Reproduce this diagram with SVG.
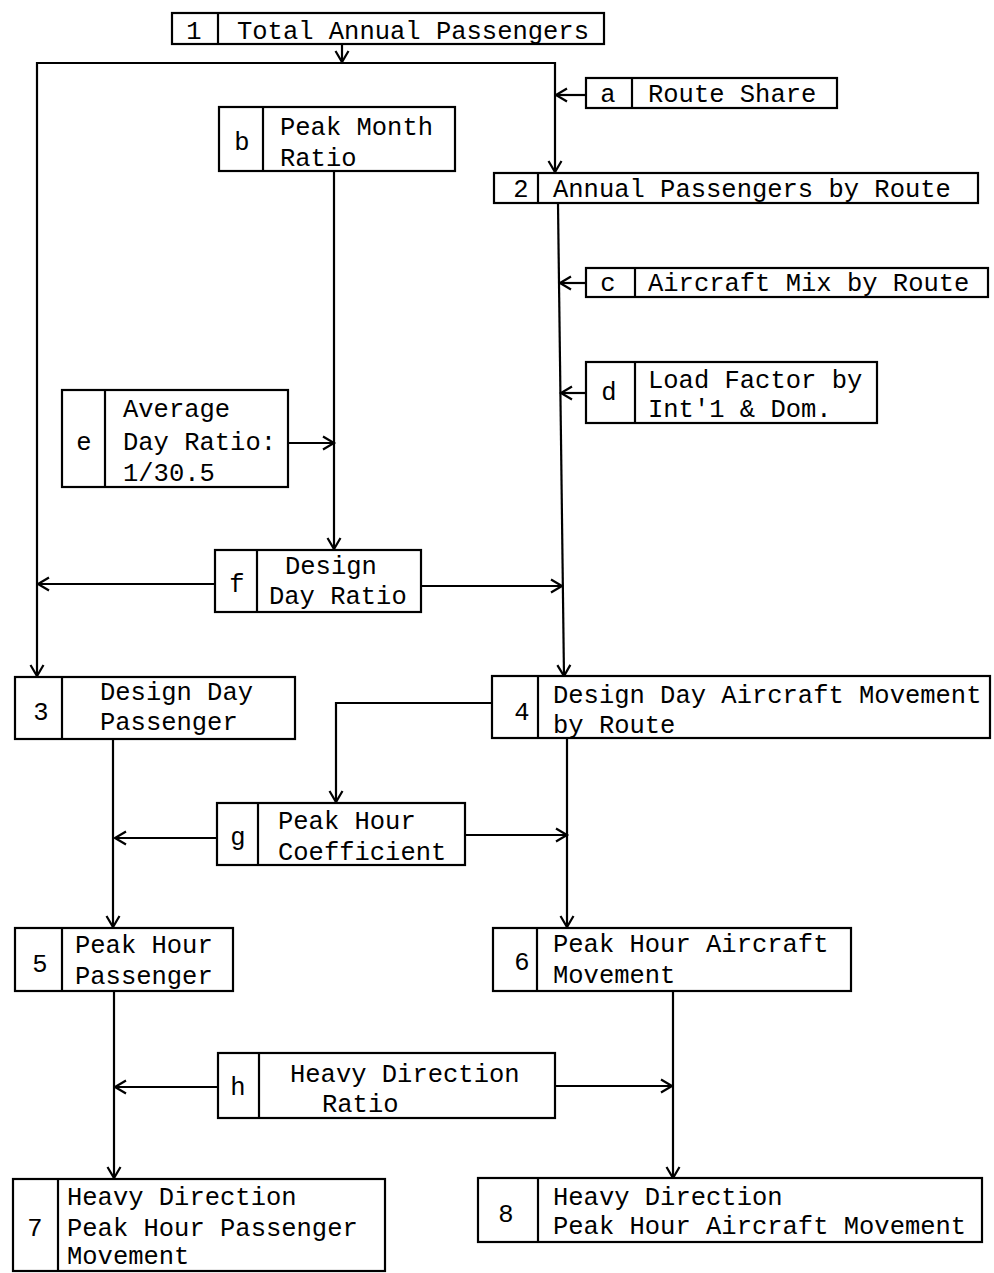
<svg xmlns="http://www.w3.org/2000/svg" width="994" height="1273" viewBox="0 0 994 1273">
<style>
  .box { fill: #fff; stroke: #000; stroke-width: 2.2; }
  .div { stroke: #000; stroke-width: 2.2; }
  .t { font-family: "Liberation Mono", "Courier New", monospace; font-size: 25.5px; fill: #000; }
  .k { font-family: "Liberation Mono", "Courier New", monospace; font-size: 25.5px; fill: #000; text-anchor: middle; }
  .c { fill: none; stroke: #000; stroke-width: 2.2; marker-end: url(#ah); }
</style>
<defs>
  <marker id="ah" markerUnits="userSpaceOnUse" markerWidth="16" markerHeight="16" refX="13" refY="8" orient="auto">
    <path d="M2,1.5 L13,8 L2,14.5" fill="none" stroke="#000" stroke-width="2.2"/>
  </marker>
</defs>
<rect width="994" height="1273" fill="#fff"/>

<g id="connectors">
  <path class="c" d="M342,45 V62"/>
  <path class="c" d="M342,63 H37 V676"/>
  <path class="c" d="M342,63 H555 V172"/>
  <path class="c" d="M586,95 H556"/>
  <path class="c" d="M334,171 V549"/>
  <path class="c" d="M288,443 H334"/>
  <path class="c" d="M215,584 H38"/>
  <path class="c" d="M421,586 H562"/>
  <path class="c" d="M558,204 L564,676"/>
  <path class="c" d="M586,283 H560"/>
  <path class="c" d="M586,393 H561"/>
  <path class="c" d="M492,703 H336 V802"/>
  <path class="c" d="M217,838 H115"/>
  <path class="c" d="M465,835 H567"/>
  <path class="c" d="M113,739 V927"/>
  <path class="c" d="M567,738 V927"/>
  <path class="c" d="M218,1087 H115"/>
  <path class="c" d="M555,1086 H672"/>
  <path class="c" d="M114,991 V1178"/>
  <path class="c" d="M673,992 V1178"/>
</g>

<g id="node1">
  <rect class="box" x="172" y="13" width="432" height="31"/>
  <line class="div" x1="218" y1="13" x2="218" y2="44"/>
  <text class="k" x="194" y="39">1</text>
  <text class="t" x="237" y="39">Total Annual Passengers</text>
</g>

<g id="nodeA">
  <rect class="box" x="586" y="78" width="251" height="30"/>
  <line class="div" x1="632" y1="78" x2="632" y2="108"/>
  <text class="k" x="608" y="102">a</text>
  <text class="t" x="648" y="102">Route Share</text>
</g>

<g id="nodeB">
  <rect class="box" x="219" y="107" width="236" height="64"/>
  <line class="div" x1="263" y1="107" x2="263" y2="171"/>
  <text class="k" x="242" y="150">b</text>
  <text class="t" x="280" y="135">Peak Month</text>
  <text class="t" x="280" y="166">Ratio</text>
</g>

<g id="node2">
  <rect class="box" x="494" y="173" width="484" height="30"/>
  <line class="div" x1="538" y1="173" x2="538" y2="203"/>
  <text class="k" x="521" y="197">2</text>
  <text class="t" x="553" y="197">Annual Passengers by Route</text>
</g>

<g id="nodeC">
  <rect class="box" x="586" y="268" width="402" height="29"/>
  <line class="div" x1="635" y1="268" x2="635" y2="297"/>
  <text class="k" x="608" y="291">c</text>
  <text class="t" x="648" y="291">Aircraft Mix by Route</text>
</g>

<g id="nodeD">
  <rect class="box" x="586" y="362" width="291" height="61"/>
  <line class="div" x1="635" y1="362" x2="635" y2="423"/>
  <text class="k" x="609" y="400">d</text>
  <text class="t" x="648" y="388">Load Factor by</text>
  <text class="t" x="648" y="417">Int'1 &amp; Dom.</text>
</g>

<g id="nodeE">
  <rect class="box" x="62" y="390" width="226" height="97"/>
  <line class="div" x1="105" y1="390" x2="105" y2="487"/>
  <text class="k" x="84" y="450">e</text>
  <text class="t" x="123" y="417">Average</text>
  <text class="t" x="123" y="450">Day Ratio:</text>
  <text class="t" x="123" y="481">1/30.5</text>
</g>

<g id="nodeF">
  <rect class="box" x="215" y="550" width="206" height="62"/>
  <line class="div" x1="257" y1="550" x2="257" y2="612"/>
  <text class="k" x="237" y="592">f</text>
  <text class="t" x="285" y="574">Design</text>
  <text class="t" x="269" y="604">Day Ratio</text>
</g>

<g id="node3">
  <rect class="box" x="15" y="677" width="280" height="62"/>
  <line class="div" x1="62" y1="677" x2="62" y2="739"/>
  <text class="k" x="41" y="720">3</text>
  <text class="t" x="100" y="700">Design Day</text>
  <text class="t" x="100" y="730">Passenger</text>
</g>

<g id="node4">
  <rect class="box" x="492" y="676" width="498" height="62"/>
  <line class="div" x1="538" y1="676" x2="538" y2="738"/>
  <text class="k" x="522" y="720">4</text>
  <text class="t" x="553" y="703">Design Day Aircraft Movement</text>
  <text class="t" x="553" y="733">by Route</text>
</g>

<g id="nodeG">
  <rect class="box" x="217" y="803" width="248" height="62"/>
  <line class="div" x1="258" y1="803" x2="258" y2="865"/>
  <text class="k" x="238" y="845">g</text>
  <text class="t" x="278" y="829">Peak Hour</text>
  <text class="t" x="278" y="860">Coefficient</text>
</g>

<g id="node5">
  <rect class="box" x="15" y="928" width="218" height="63"/>
  <line class="div" x1="62" y1="928" x2="62" y2="991"/>
  <text class="k" x="40" y="972">5</text>
  <text class="t" x="75" y="953">Peak Hour</text>
  <text class="t" x="75" y="984">Passenger</text>
</g>

<g id="node6">
  <rect class="box" x="493" y="928" width="358" height="63"/>
  <line class="div" x1="537" y1="928" x2="537" y2="991"/>
  <text class="k" x="522" y="970">6</text>
  <text class="t" x="553" y="952">Peak Hour Aircraft</text>
  <text class="t" x="553" y="983">Movement</text>
</g>

<g id="nodeH">
  <rect class="box" x="218" y="1053" width="337" height="65"/>
  <line class="div" x1="259" y1="1053" x2="259" y2="1118"/>
  <text class="k" x="238" y="1095">h</text>
  <text class="t" x="290" y="1082">Heavy Direction</text>
  <text class="t" x="322" y="1112">Ratio</text>
</g>

<g id="node7">
  <rect class="box" x="13" y="1179" width="372" height="92"/>
  <line class="div" x1="58" y1="1179" x2="58" y2="1271"/>
  <text class="k" x="35" y="1236">7</text>
  <text class="t" x="67" y="1205">Heavy Direction</text>
  <text class="t" x="67" y="1236">Peak Hour Passenger</text>
  <text class="t" x="67" y="1264">Movement</text>
</g>

<g id="node8">
  <rect class="box" x="478" y="1178" width="504" height="64"/>
  <line class="div" x1="538" y1="1178" x2="538" y2="1242"/>
  <text class="k" x="506" y="1222">8</text>
  <text class="t" x="553" y="1205">Heavy Direction</text>
  <text class="t" x="553" y="1234">Peak Hour Aircraft Movement</text>
</g>
</svg>
